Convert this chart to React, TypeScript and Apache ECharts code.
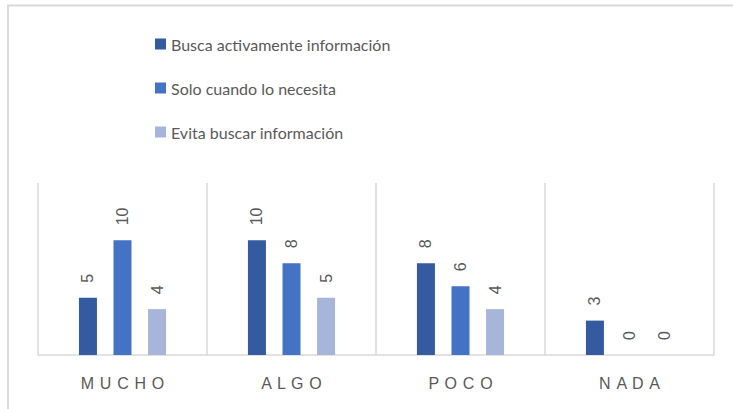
import React, { useEffect, useRef } from "react";
import * as echarts from "echarts";

const categories = ["MUCHO", "ALGO", "POCO", "NADA"];
const seriesNames = [
  "Busca activamente información",
  "Solo cuando lo necesita",
  "Evita buscar información",
];
const buscaValues = [5, 10, 8, 3];
const soloValues = [10, 8, 6, 0];
const evitaValues = [4, 5, 4, 0];
const colors = ["#345A9F", "#4472C4", "#A7B5DA"];

export default function App() {
  const ref = useRef<HTMLDivElement>(null);
  useEffect(() => {
    if (!ref.current) return;
    const chart = echarts.init(ref.current, undefined, { renderer: "svg" });
    const label = {
      show: true,
      position: "top",
      rotate: 90,
      align: "left",
      verticalAlign: "middle",
      distance: 15,
      fontSize: 16,
      color: "#595959",
      fontFamily: "Liberation Sans",
    };
    const data = [buscaValues, soloValues, evitaValues];
    chart.setOption({
      animation: false,
      backgroundColor: "#ffffff",
      graphic: [
        {
          type: "rect",
          shape: { x: 8, y: 5.5, width: 760, height: 440 },
          style: { fill: "none", stroke: "#D9D9D9", lineWidth: 2 },
          silent: true,
        },
      ],
      legend: {
        orient: "vertical",
        left: 150,
        top: 31,
        itemWidth: 11,
        itemHeight: 11,
        itemGap: 28,
        icon: "rect",
        textStyle: { fontSize: 16, color: "#595959", fontFamily: "Lato" },
        data: seriesNames,
      },
      grid: { left: 38, right: 19, top: 183, bottom: 54 },
      xAxis: {
        type: "category",
        data: categories,
        axisLine: { show: true, lineStyle: { color: "#D9D9D9", width: 1.5 } },
        axisTick: { show: false },
        splitLine: { show: true, lineStyle: { color: "#D9D9D9", width: 1.5 } },
        axisLabel: {
          margin: 20,
          fontSize: 16,
          color: "#595959",
          fontFamily: "Liberation Sans",
          formatter: (v: string) => v.split("").join(" \u200A"),
        },
      },
      yAxis: { type: "value", min: 0, max: 15, show: false, splitLine: { show: false } },
      series: seriesNames.map((name, i) => ({
        name,
        type: "bar",
        data: data[i],
        barWidth: 18,
        barGap: "92%",
        itemStyle: { color: colors[i] },
        label,
      })),
    });
    return () => chart.dispose();
  }, []);
  return (
    <div
      ref={ref}
      style={{ position: "absolute", left: 0, top: 0, width: 733, height: 409 }}
    />
  );
}
